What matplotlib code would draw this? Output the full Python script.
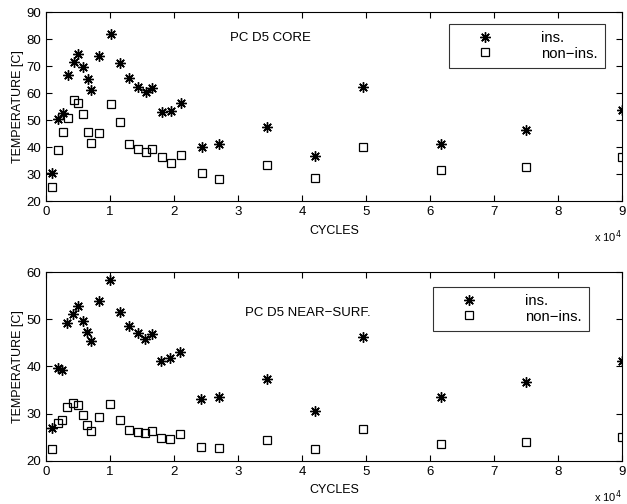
import matplotlib.pyplot as plt
import numpy as np

plt.rcParams['font.family'] = ['Liberation Sans', 'DejaVu Sans']

# cycles (x 10^4)
cycles_core = [0.10, 0.19, 0.26, 0.34, 0.43, 0.50, 0.57, 0.65, 0.71, 0.83, 1.01, 1.16, 1.30, 1.44,
               1.56, 1.66, 1.81, 1.95, 2.11, 2.44, 2.71, 3.46, 4.21, 4.95, 6.17, 7.50, 9.00]
core_ins = [30.6, 50.4, 52.5, 66.9, 71.7, 74.4, 69.6, 65.1, 61.2, 73.8, 82.0, 71.1, 65.5, 62.4,
            60.3, 62.0, 53.1, 53.5, 56.2, 40.0, 41.2, 47.5, 36.7, 62.3, 41.2, 46.4, 53.8]
core_non = [25.3, 38.9, 45.6, 50.8, 57.5, 56.5, 52.2, 45.5, 41.4, 45.3, 56.0, 49.2, 41.2, 39.3,
            38.3, 39.3, 36.3, 34.0, 37.0, 30.3, 28.3, 33.4, 28.6, 40.1, 31.5, 32.7, 36.4]

cycles_surf = [0.10, 0.19, 0.25, 0.33, 0.42, 0.50, 0.57, 0.64, 0.70, 0.82, 1.00, 1.15, 1.29, 1.43,
               1.55, 1.65, 1.80, 1.94, 2.10, 2.42, 2.70, 3.45, 4.20, 4.95, 6.17, 7.50, 9.00]
surf_ins = [26.9, 39.6, 39.3, 49.2, 51.1, 52.8, 49.7, 47.4, 45.3, 54.0, 58.4, 51.6, 48.6, 47.1,
            45.8, 46.8, 41.2, 41.7, 43.1, 33.0, 33.5, 37.3, 30.5, 46.2, 33.5, 36.6, 41.2]
surf_non = [22.4, 28.1, 28.6, 31.3, 32.3, 31.8, 29.6, 27.6, 26.3, 29.2, 32.0, 28.7, 26.5, 26.1,
            25.9, 26.4, 24.8, 24.5, 25.7, 22.8, 22.7, 24.3, 22.5, 26.7, 23.5, 24.0, 25.1]

panels = [
    (cycles_core, core_ins, core_non, 'PC D5 CORE', (20, 90), [20, 30, 40, 50, 60, 70, 80, 90], (2.87, 80.5)),
    (cycles_surf, surf_ins, surf_non, 'PC D5 NEAR\u2212SURF.', (20, 60), [20, 30, 40, 50, 60], (3.11, 51.3)),
]
axes_rects = [[0.0734, 0.601, 0.9187, 0.3745], [0.0734, 0.086, 0.9187, 0.3738]]
legend_locs = [(0.6997, 0.705), (0.672, 0.688)]

fig = plt.figure(figsize=(6.27, 5.04), dpi=100)

for rect, (x, ins, non, title, ylim, yticks, tpos), lpos in zip(axes_rects, panels, legend_locs):
    ax = fig.add_axes(rect)
    x = np.array(x) * 1e4
    ax.plot(x, ins, linestyle='none', marker=(8, 2, 0), markersize=7.5, markeredgewidth=1.0,
            color='black', label='ins.')
    ax.plot(x, non, linestyle='none', marker='s', markersize=6.3, markerfacecolor='none',
            markeredgecolor='black', markeredgewidth=0.9, label='non\u2212ins.')
    ax.set_xlim(0, 9e4)
    ax.set_ylim(*ylim)
    ax.set_xticks(np.arange(0, 10) * 1e4)
    ax.set_xticklabels([str(i) for i in range(10)])
    ax.set_yticks(yticks)
    ax.tick_params(direction='in', top=True, right=True, length=4, labelsize=9.5, width=0.8)
    for s in ax.spines.values():
        s.set_linewidth(0.8)
    ax.set_xlabel('CYCLES', fontsize=9, labelpad=5)
    ax.set_ylabel('TEMPERATURE [C]', fontsize=9, labelpad=1.5)
    ax.text(tpos[0] * 1e4, tpos[1], title, fontsize=9.5, va='center', ha='left')
    ax.text(1.0, -0.19, 'x 10$^4$', transform=ax.transAxes, fontsize=8, ha='right', va='center')
    leg = ax.legend(loc='lower left', bbox_to_anchor=lpos, fontsize=10.7, frameon=True, fancybox=False,
                    edgecolor='black', handletextpad=1.84, borderpad=0.5, labelspacing=0.1,
                    handlelength=3.85, borderaxespad=0)
    leg.get_frame().set_linewidth(0.8)

fig.savefig('out.png', dpi=100)
